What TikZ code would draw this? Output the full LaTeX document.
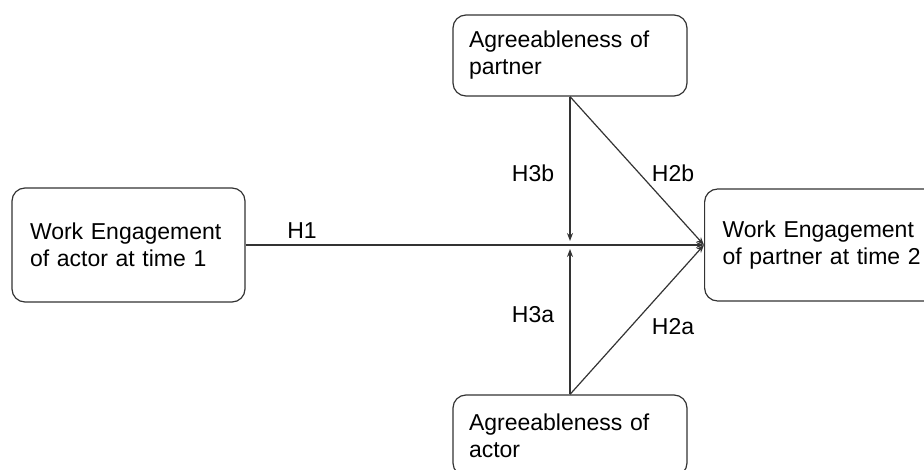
\documentclass[tikz,border=0pt]{standalone}
\usepackage{fontspec}
\setmainfont{Liberation Sans}
\usetikzlibrary{arrows.meta}
\definecolor{ink}{HTML}{333333}
\begin{document}
\begin{tikzpicture}[x=1pt,y=-1pt,
  box/.style={draw=ink, line width=1.2pt, rounded corners=13pt, align=left,
    inner ysep=0pt, font=\fontsize{23}{27}\selectfont, text=black},
  conn/.style={draw=ink, line width=1.2pt, -{Stealth[length=8pt,width=6pt]}},
  lab/.style={font=\fontsize{23}{27}\selectfont, text=black, inner sep=0pt}]
\useasboundingbox (0,0) rectangle (924,470);
\clip (0,0) rectangle (924,470);
\node[box, minimum width=233pt, minimum height=114pt, text width=197pt, inner xsep=18pt] (a) at (128.5,245) {Work Engagement\\of actor at time 1};
\node[box, anchor=west, minimum height=112pt, text width=215pt, inner xsep=18pt] (p) at (704,245) {Work Engagement\\of partner at time 2};
\node[box, minimum width=234pt, minimum height=81pt, text width=202pt, inner xsep=16pt] (tp) at (570,55.5) {Agreeableness of\\partner};
\node[box, minimum width=234pt, minimum height=81pt, text width=202pt, inner xsep=16pt] (ba) at (570,435.5) {Agreeableness of\\actor};
\coordinate (mt) at (570,241);
\coordinate (mb) at (570,249);
\draw[conn] (a.east) -- (p.west);
\draw[conn] (tp.south) -- (mt);
\draw[conn] (ba.north) -- (mb);
\draw[conn] (tp.south) -- (p.west);
\draw[conn] (ba.north) -- (p.west);
\node[lab] (h1) at (302,231) {H1};
\node[lab] (h3b) at (533,173) {H3b};
\node[lab] (h2b) at (673,173) {H2b};
\node[lab] (h3a) at (533,315) {H3a};
\node[lab] (h2a) at (673,327) {H2a};
\end{tikzpicture}
\end{document}
